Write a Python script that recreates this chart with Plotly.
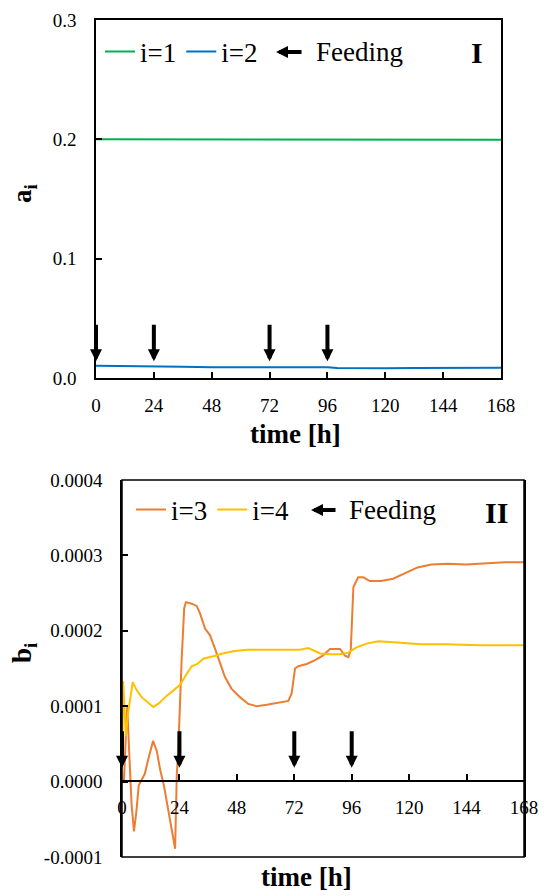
import plotly.graph_objects as go

# ---------------- data ----------------
t_a = [0, 12, 24, 36, 48, 60, 72, 84, 96, 100, 108, 120, 132, 144, 156, 168]
a1 = [0.2000, 0.2000, 0.1999, 0.1999, 0.1999, 0.1998, 0.1998, 0.1998, 0.1998,
      0.1997, 0.1997, 0.1997, 0.1996, 0.1996, 0.1996, 0.1996]
a2 = [0.0102, 0.0101, 0.0098, 0.0094, 0.0091, 0.0090, 0.0091, 0.0092, 0.0091,
      0.0084, 0.0081, 0.0082, 0.0084, 0.0085, 0.0086, 0.0086]

t3 = [0, 0.8, 1.6, 2.2, 3.0, 4.0, 5.0, 6.0, 7.0, 8.2, 9.5, 11.0, 13.0, 14.5, 16.0,
      17.5, 19.4, 21.5, 22.2, 22.9, 23.5, 24.9, 26.0, 26.7, 29.1, 31.2, 32.6, 34.7,
      36.8, 38.9, 41.0, 43.0, 45.8, 49.3, 52.8, 56.3, 60.5, 64.6, 69.5, 70.9, 72.3,
      73.7, 77.2, 80.7, 83.9, 86.9, 91.1, 93.2, 94.6, 95.6, 96.7, 98.7, 100.8, 103.6,
      106.4, 108.2, 113.3, 118.4, 123.5, 129.3, 136, 143.8, 152.5, 160, 168]
b3 = [0.0, 0.000000, 0.000060, 0.000100, 0.000040, -0.000030, -0.000066, -0.000040,
      -0.000005, 0.000003, 0.000010, 0.000030, 0.000054, 0.000041, 0.000015,
      -0.000005, -0.000040, -0.000074, -0.000089, 0.000010, 0.000040, 0.000160,
      0.000230, 0.000238, 0.000236, 0.000233, 0.000223, 0.000203, 0.000194, 0.000176,
      0.000156, 0.000139, 0.000123, 0.000112, 0.000103, 0.000100, 0.000102, 0.000104,
      0.000107, 0.000117, 0.000150, 0.000153, 0.000156, 0.000161, 0.000167, 0.000176,
      0.000176, 0.000167, 0.000165, 0.000174, 0.000258, 0.000271, 0.000271, 0.000266,
      0.000266, 0.000266, 0.000269, 0.000277, 0.000284, 0.000288, 0.000289, 0.000288,
      0.000290, 0.000291, 0.000291]

t4 = [0, 0.5, 1.6, 2.5, 4.5, 6.0, 8.2, 10.5, 13.1, 15.5, 18.7, 21.5, 24.2, 26.5, 29.1,
      31.5, 34.0, 38.9, 42.0, 46.5, 52.1, 60, 70, 74.4, 77.9, 80.5, 82.8, 87, 91.1,
      94.6, 98, 102.3, 107.1, 112, 118, 125, 135, 150, 168]
b4 = [0.000020, 0.000133, 0.000060, 0.000090, 0.000132, 0.000122, 0.000112, 0.000106,
      0.000099, 0.000104, 0.000114, 0.000121, 0.000128, 0.000140, 0.000153, 0.000156,
      0.000163, 0.000167, 0.000170, 0.000173, 0.000175, 0.000175, 0.000175, 0.000175,
      0.000177, 0.000173, 0.000170, 0.000169, 0.000169, 0.000171, 0.000178, 0.000183,
      0.000186, 0.000185, 0.000184, 0.000182, 0.000182, 0.000181, 0.000181]

feed_times = [0, 24, 72, 96]
x_ticks = [0, 24, 48, 72, 96, 120, 144, 168]
a_ticks = [0.0, 0.1, 0.2, 0.3]
a_ticktext = ["0.0", "0.1", "0.2", "0.3"]
b_ticks = [-0.0001, 0.0, 0.0001, 0.0002, 0.0003, 0.0004]
b_ticktext = ["-0.0001", "0.0000", "0.0001", "0.0002", "0.0003", "0.0004"]

# ---------------- layout helpers ----------------
W, H = 544, 896
FONT = "Liberation Serif, Times New Roman, DejaVu Serif, serif"


def px(x):
    return x / W


def py(y):
    return 1 - y / H


fig = go.Figure()
fig.add_trace(go.Scatter(x=t_a, y=a1, mode="lines", name="i=1",
                         line=dict(color="#00B050", width=2), xaxis="x", yaxis="y",
                         legend="legend"))
fig.add_trace(go.Scatter(x=t_a, y=a2, mode="lines", name="i=2",
                         line=dict(color="#0070C0", width=2), xaxis="x", yaxis="y",
                         legend="legend"))
fig.add_trace(go.Scatter(x=t3, y=b3, mode="lines", name="i=3",
                         line=dict(color="#ED7D31", width=2), xaxis="x2", yaxis="y2",
                         legend="legend2"))
fig.add_trace(go.Scatter(x=t4, y=b4, mode="lines", name="i=4",
                         line=dict(color="#FFC000", width=2), xaxis="x2", yaxis="y2",
                         legend="legend2"))

tickfont = dict(family=FONT, size=19, color="black")
axis_common = dict(showgrid=False, zeroline=False, showline=True, linecolor="black",
                   linewidth=1.5, ticks="inside", ticklen=6, tickwidth=1.5,
                   tickcolor="black", tickfont=tickfont, automargin=False)

leg_font = dict(family=FONT, size=27, color="black")
fig.update_layout(
    template="none",
    width=W, height=H, margin=dict(l=0, r=0, t=0, b=0, autoexpand=False),
    paper_bgcolor="white", plot_bgcolor="white",
    font=dict(family=FONT, color="black"),
    xaxis=dict(domain=[px(96), px(501)], range=[0, 168], tickvals=x_ticks,
               mirror=True, anchor="y", ticklabelstandoff=9, **axis_common),
    yaxis=dict(domain=[py(378), py(20)], range=[0, 0.3], tickvals=a_ticks,
               ticktext=a_ticktext, mirror=True, anchor="x", ticklabelstandoff=14,
               **axis_common),
    xaxis2=dict(domain=[px(122), px(524)], range=[0, 168], tickvals=x_ticks,
                anchor="free", position=py(781), ticklabelstandoff=9, **axis_common),
    yaxis2=dict(domain=[py(857), py(480)], range=[-0.0001, 0.0004], tickvals=b_ticks,
                ticktext=b_ticktext, mirror=True, anchor="x2", ticklabelstandoff=14,
                **axis_common),
    legend=dict(orientation="h", x=px(100), xanchor="left", y=py(52), yanchor="middle",
                bgcolor="rgba(0,0,0,0)", font=leg_font, itemwidth=30, borderwidth=0),
    legend2=dict(orientation="h", x=px(131), xanchor="left", y=py(510), yanchor="middle",
                 bgcolor="rgba(0,0,0,0)", font=leg_font, itemwidth=30, borderwidth=0),
    showlegend=True,
)

# frame of lower plot
fig.add_shape(type="rect", xref="x2 domain", yref="y2 domain", x0=0, x1=1, y0=0, y1=1,
              line=dict(color="black", width=1.5), layer="above")

ann = []
arrow_style = dict(showarrow=True, arrowhead=2, arrowwidth=4, arrowsize=0.6,
                   arrowcolor="black", text="", standoff=0)
# feeding arrows
for t in feed_times:
    ann.append(dict(x=t, y=0.014, xref="x", yref="y", ax=0, ay=-38, **arrow_style))
    ann.append(dict(x=t, y=0.0000185, xref="x2", yref="y2", ax=0, ay=-38, **arrow_style))

# legend arrows + Feeding labels
ann.append(dict(x=px(276), y=py(52), xref="paper", yref="paper", ax=27, ay=0,
                **arrow_style))
ann.append(dict(x=px(314), y=py(52), xref="paper", yref="paper", text="Feeding",
                showarrow=False, xanchor="left", yanchor="middle", font=leg_font))
ann.append(dict(x=px(311), y=py(510), xref="paper", yref="paper", ax=26, ay=0,
                **arrow_style))
ann.append(dict(x=px(347), y=py(510), xref="paper", yref="paper", text="Feeding",
                showarrow=False, xanchor="left", yanchor="middle", font=leg_font))
# panel labels
panel_font = dict(family=FONT, size=30, color="black")
ann.append(dict(x=px(477), y=py(52), xref="paper", yref="paper", text="<b>I</b>",
                showarrow=False, xanchor="center", yanchor="middle", font=panel_font))
ann.append(dict(x=px(496), y=py(512), xref="paper", yref="paper", text="<b>II</b>",
                showarrow=False, xanchor="center", yanchor="middle", font=panel_font))
# axis titles
title_font = dict(family=FONT, size=27, color="black")
ann.append(dict(x=px(24), y=py(194), xref="paper", yref="paper",
                text="<b>a<sub>i</sub></b>", showarrow=False, textangle=-90,
                xanchor="center", yanchor="middle", font=title_font))
ann.append(dict(x=px(24), y=py(653), xref="paper", yref="paper",
                text="<b>b<sub>i</sub></b>", showarrow=False, textangle=-90,
                xanchor="center", yanchor="middle", font=title_font))
ann.append(dict(x=px(295), y=py(434), xref="paper", yref="paper",
                text="<b>time [h]</b>", showarrow=False, xanchor="center",
                yanchor="middle", font=title_font))
ann.append(dict(x=px(306), y=py(877), xref="paper", yref="paper",
                text="<b>time [h]</b>", showarrow=False, xanchor="center",
                yanchor="middle", font=title_font))
fig.update_layout(annotations=ann)

fig.write_html("out.html")
